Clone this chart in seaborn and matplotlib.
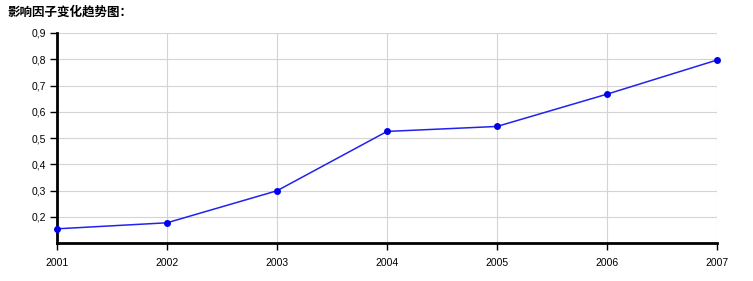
import matplotlib
matplotlib.use("Agg")
import matplotlib.pyplot as plt
import seaborn as sns
import pandas as pd

years = ["2001", "2002", "2003", "2004", "2005", "2006", "2007"]
values = [0.154, 0.177, 0.299, 0.525, 0.544, 0.667, 0.797]
y_ticks = [0.2, 0.3, 0.4, 0.5, 0.6, 0.7, 0.8, 0.9]
y_labels = ["0,2", "0,3", "0,4", "0,5", "0,6", "0,7", "0,8", "0,9"]
title = "影响因子变化趋势图："

sns.set_theme(style="white")
plt.rcParams['font.family'] = ['Liberation Sans', 'DejaVu Sans']

df = pd.DataFrame({"year": range(len(years)), "value": values})

fig = plt.figure(figsize=(7.53, 2.81), dpi=100)
ax = fig.add_axes([57/753, 38/281, 660/753, 210/281])

sns.lineplot(data=df, x="year", y="value", ax=ax, color="#2222ee", linewidth=1.1,
             marker="o", markersize=5, markeredgewidth=0, markerfacecolor="#0000ee",
             zorder=3, clip_on=False)

ax.set_xlim(0, len(years) - 1)
ax.set_ylim(0.1, 0.9)
ax.set_xticks(range(len(years)))
ax.set_xticklabels(years)
ax.set_yticks(y_ticks)
ax.set_yticklabels(y_labels)
ax.set_xlabel("")
ax.set_ylabel("")

ax.grid(True, color="#d4d4d4", linewidth=0.8)
ax.set_axisbelow(True)
for s in ["top", "right"]:
    ax.spines[s].set_visible(False)
ax.spines["left"].set_color("black")
ax.spines["left"].set_linewidth(2)
ax.spines["bottom"].set_color("black")
ax.spines["bottom"].set_linewidth(2)
ax.tick_params(axis="both", which="both", direction="out", length=5, width=1,
               color="black", labelsize=7.5, labelcolor="black", pad=3,
               bottom=True, left=True)
ax.tick_params(axis="x", pad=6)

fig.text(7/753, 1 - 12/281, title, fontsize=9, fontweight="bold",
         family=["Noto Sans CJK SC", "DejaVu Sans"], va="center", ha="left", color="black")

fig.savefig("out.png", dpi=100, facecolor="white")
